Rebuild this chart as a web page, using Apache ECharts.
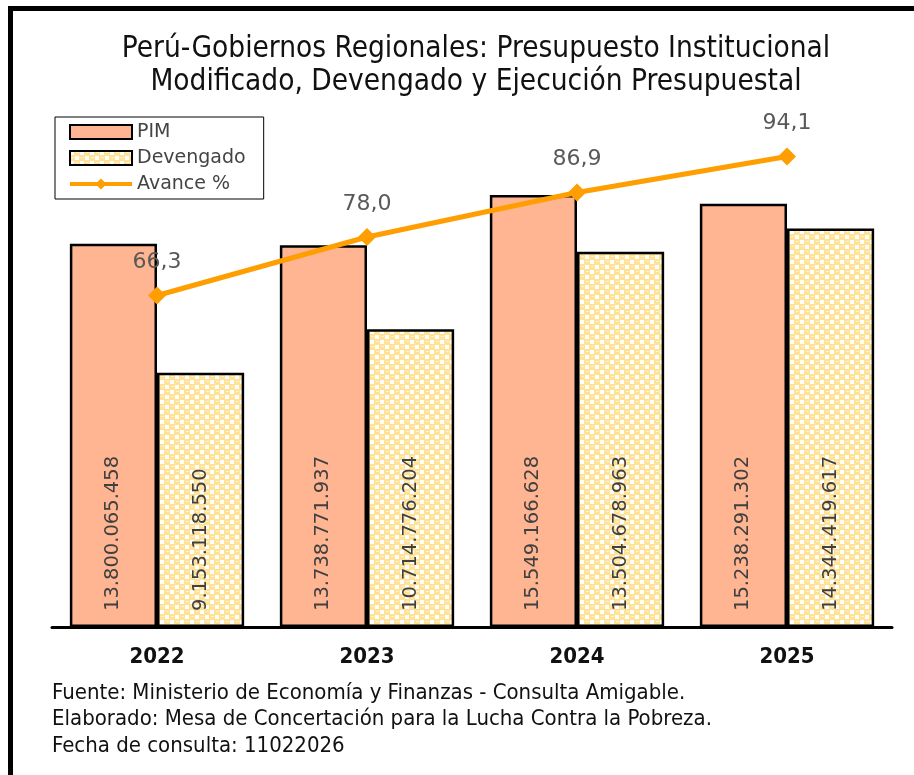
<!DOCTYPE html>
<html>
<head>
<meta charset="utf-8">
<script src="https://cdn.jsdelivr.net/npm/echarts@6/dist/echarts.min.js"></script>
<style>
  html, body { margin: 0; padding: 0; background: #fff; }
  #chart { width: 914px; height: 775px; }
</style>
</head>
<body>
<div id="chart"></div>
<script>
// datos
const years = ['2022', '2023', '2024', '2025'];
const pim = [13800065458, 13738771937, 15549166628, 15238291302];
const devengado = [9153118550, 10714776204, 13504678963, 14344419617];
const avance = [66.3, 78.0, 86.9, 94.1];

const fuente = [
  'Fuente: Ministerio de Economía y Finanzas - Consulta Amigable.',
  'Elaborado: Mesa de Concertación para la Lucha Contra la Pobreza.',
  'Fecha de consulta: 11022026'
];

const narrow = '"DejaVu Sans Condensed", sans-serif';
const wide = '"DejaVu Sans", sans-serif';

// patron amarillo / blanco para devengado
function makePattern() {
  const c = document.createElement('canvas');
  c.width = 10; c.height = 10;
  const ctx = c.getContext('2d');
  ctx.fillStyle = '#ffe296';
  ctx.fillRect(0, 0, 10, 10);
  ctx.fillStyle = '#ffffff';
  ctx.fillRect(0, 0, 4, 4);
  ctx.fillRect(5, 5, 4, 4);
  ctx.fillStyle = '#fff3d0';
  ctx.fillRect(6, 1, 3, 1);
  ctx.fillRect(1, 6, 3, 1);
  return c;
}

const fmtMiles = v => String(v).replace(/\B(?=(\d{3})+(?!\d))/g, '.');

let myChart = echarts.init(document.getElementById('chart'));
myChart.setOption({
  animation: false,
  backgroundColor: '#fff',
  title: {
    text: 'Perú-Gobiernos Regionales: Presupuesto Institucional\nModificado, Devengado y Ejecución Presupuestal',
    left: 471,
    top: 28,
    textAlign: 'center',
    textStyle: {
      fontFamily: narrow,
      fontSize: 29.5,
      fontWeight: 'normal',
      lineHeight: 33,
      color: '#111'
    }
  },
  legend: {
    orient: 'vertical',
    left: 55,
    top: 117,
    padding: [4, 18, 4, 13],
    itemGap: 4,
    itemWidth: 62,
    itemHeight: 14,
    backgroundColor: '#fff',
    borderColor: '#000',
    borderWidth: 1,
    textStyle: { fontFamily: wide, fontSize: 19, lineHeight: 22, color: '#444' },
    data: [
      { name: 'PIM', icon: 'rect' },
      { name: 'Devengado', icon: 'rect' },
      { name: 'Avance %', lineStyle: { width: 4 } }
    ]
  },
  grid: {
    left: 52,
    right: 22,
    top: 127,
    bottom: 148
  },
  xAxis: {
    type: 'category',
    data: years,
    axisLine: { lineStyle: { color: '#000', width: 3 } },
    axisTick: { show: false },
    axisLabel: {
      margin: 19,
      fontFamily: narrow,
      fontSize: 22,
      fontWeight: 'bold',
      color: '#111'
    }
  },
  yAxis: [
    { type: 'value', min: 0, max: 18e9, show: false },
    { type: 'value', min: 0, max: 100, show: false }
  ],
  series: [
    {
      name: 'PIM',
      type: 'bar',
      data: pim,
      barGap: '0%',
      barCategoryGap: '17%',
      itemStyle: { color: '#ffb592', borderColor: '#000', borderWidth: 2.5 },
      label: {
        show: true,
        position: 'insideBottom',
        rotate: 90,
        align: 'left',
        verticalAlign: 'middle',
        distance: 16,
        fontFamily: wide,
        fontSize: 19.5,
        color: '#404040',
        formatter: p => fmtMiles(p.value)
      }
    },
    {
      name: 'Devengado',
      type: 'bar',
      data: devengado,
      itemStyle: {
        color: { image: makePattern(), repeat: 'repeat' },
        borderColor: '#000',
        borderWidth: 2.5
      },
      label: {
        show: true,
        position: 'insideBottom',
        rotate: 90,
        align: 'left',
        verticalAlign: 'middle',
        distance: 16,
        fontFamily: wide,
        fontSize: 19.5,
        color: '#404040',
        formatter: p => fmtMiles(p.value)
      }
    },
    {
      name: 'Avance %',
      type: 'line',
      yAxisIndex: 1,
      data: avance,
      z: 5,
      symbol: 'diamond',
      symbolSize: 18,
      lineStyle: { color: '#ff9e00', width: 5 },
      itemStyle: { color: '#ff9e00' },
      label: {
        show: true,
        position: 'top',
        distance: 13,
        fontFamily: wide,
        fontSize: 22,
        color: '#595959',
        formatter: p => p.value.toFixed(1).replace('.', ',')
      }
    }
  ],
  graphic: [
    {
      type: 'rect',
      shape: { x: 10.5, y: 8.5, width: 1000, height: 1000 },
      style: { fill: null, stroke: '#000', lineWidth: 5 },
      silent: true
    },
    {
      type: 'text',
      left: 52,
      top: 680,
      style: {
        text: fuente.join('\n'),
        fontFamily: narrow,
        fontSize: 22,
        lineHeight: 26.5,
        fill: '#111'
      }
    }
  ]
});
</script>
</body>
</html>
